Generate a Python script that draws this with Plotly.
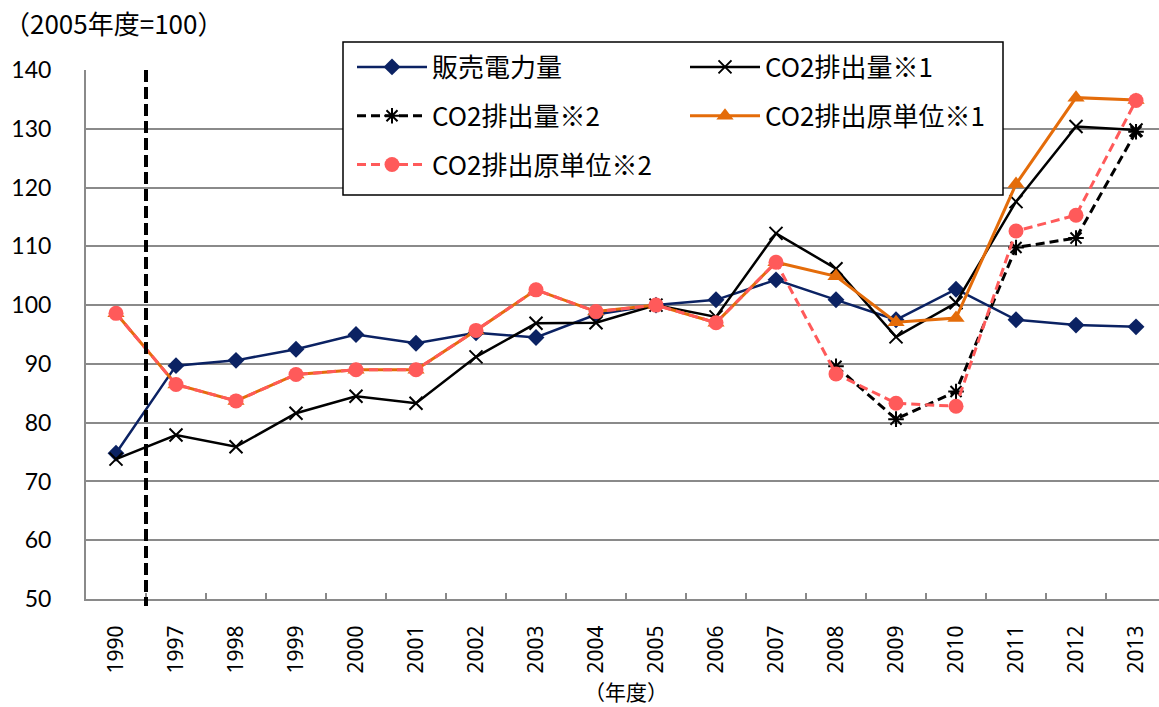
import plotly.graph_objects as go

# ---- data (index, 2005 = 100) ----
years = ["1990", "1997", "1998", "1999", "2000", "2001", "2002", "2003", "2004",
         "2005", "2006", "2007", "2008", "2009", "2010", "2011", "2012", "2013"]

sales = [74.8, 89.7, 90.6, 92.5, 95.0, 93.5, 95.3, 94.5, 98.4,
         100.0, 100.9, 104.3, 100.9, 97.5, 102.7, 97.5, 96.6, 96.3]

co2_1 = [73.8, 77.9, 75.9, 81.6, 84.5, 83.3, 91.2, 96.9, 97.0,
         100.0, 98.0, 112.2, 106.2, 94.6, 100.4, 117.6, 130.4, 129.8]

co2_2 = [None, None, None, None, None, None, None, None, None,
         None, None, None, 89.6, 80.6, 85.3, 109.8, 111.4, 129.5]

intensity_1 = [98.6, 86.5, 83.7, 88.2, 89.0, 89.0, 95.7, 102.6, 98.9,
               100.0, 97.0, 107.3, 104.9, 97.1, 97.8, 120.6, 135.3, 134.9]

intensity_2 = [98.6, 86.5, 83.7, 88.2, 89.0, 89.0, 95.7, 102.6, 98.9,
               100.0, 97.0, 107.3, 88.3, 83.3, 82.8, 112.6, 115.3, 134.8]

names = ["販売電力量", "CO2排出量※1", "CO2排出量※2", "CO2排出原単位※1", "CO2排出原単位※2"]

# ---- layout constants ----
W, H = 1159, 707
ML, MR, MT, MB = 86, 0, 70, 108
X_RANGE = [-0.5, 17.383]
Y_RANGE = [50, 140]
BREAK_POS = 0.5  # boundary between 1990 and 1997

NAVY = "#0B2263"
ORANGE = "#E46C0A"
PINK = "#FF5A5A"
GRID = "#8A8A8A"
NUMFONT = "Lato"
XFONT = "Noto Sans"
JFONT = "Noto Sans CJK JP"


def px_x(px):
    return (px - ML) / (W - ML - MR)


def px_y(py):
    return (H - MB - py) / (H - MT - MB)


fig = go.Figure()

fig.add_trace(go.Scatter(
    x=years, y=sales, name=names[0], mode="lines+markers",
    line=dict(color=NAVY, width=2.5),
    marker=dict(symbol="diamond", size=13, color=NAVY),
    legend="legend", legendgroup="a"))

fig.add_trace(go.Scatter(
    x=years, y=co2_1, name=names[1], mode="lines+markers",
    line=dict(color="black", width=2.5),
    marker=dict(symbol="x-thin", size=13, color="black",
                line=dict(color="black", width=2)),
    legend="legend2", legendgroup="b"))

fig.add_trace(go.Scatter(
    x=years, y=co2_2, name=names[2], mode="lines+markers",
    line=dict(color="black", width=3, dash="9px,5px"),
    marker=dict(symbol="asterisk", size=13, color="black",
                line=dict(color="black", width=2)),
    legend="legend", legendgroup="c"))

fig.add_trace(go.Scatter(
    x=years, y=intensity_1, name=names[3], mode="lines+markers",
    line=dict(color=ORANGE, width=3),
    marker=dict(symbol="triangle-up", size=15, color=ORANGE),
    legend="legend2", legendgroup="d"))

fig.add_trace(go.Scatter(
    x=years, y=intensity_2, name=names[4], mode="lines+markers",
    line=dict(color=PINK, width=3, dash="9px,5px"),
    marker=dict(symbol="circle", size=15, color=PINK),
    legend="legend", legendgroup="e"))

# break marker between 1990 and the continuous series
brk = (BREAK_POS - X_RANGE[0]) / (X_RANGE[1] - X_RANGE[0])
shapes = [
    dict(type="line", xref="paper", yref="paper", x0=brk, x1=brk,
         y0=1.0, y1=px_y(606), line=dict(color="black", width=4, dash="12px,5px"),
         layer="above"),
    # legend frame
    dict(type="rect", xref="paper", yref="paper",
         x0=px_x(343), x1=px_x(1003), y0=px_y(195), y1=px_y(42),
         line=dict(color="black", width=1.5), fillcolor="white", layer="above"),
]

legend_common = dict(
    xanchor="left", yanchor="top", bgcolor="rgba(0,0,0,0)", borderwidth=0,
    font=dict(family=JFONT, size=26, color="black"),
    itemwidth=70, tracegroupgap=12, traceorder="grouped",
)

fig.update_layout(
    width=W, height=H,
    margin=dict(l=ML, r=MR, t=MT, b=MB, autoexpand=False),
    paper_bgcolor="white", plot_bgcolor="white",
    font=dict(family=JFONT, color="black"),
    showlegend=True,
    legend=dict(x=px_x(352), y=px_y(43.5), **legend_common),
    legend2=dict(x=px_x(685), y=px_y(43.5), **legend_common),
    xaxis=dict(
        type="category", range=X_RANGE, tickson="boundaries",
        ticks="inside", ticklen=6, tickwidth=1.5, tickcolor=GRID,
        showline=True, linecolor=GRID, linewidth=2,
        showgrid=False, zeroline=False, tickangle=-90,
        ticklabelstandoff=16,
        tickfont=dict(family=XFONT, size=21, color="black"),
    ),
    yaxis=dict(
        range=Y_RANGE, dtick=10, tick0=50,
        showgrid=True, gridcolor=GRID, gridwidth=2,
        showline=True, linecolor=GRID, linewidth=2, zeroline=False,
        ticks="", ticklabelstandoff=28,
        tickfont=dict(family=NUMFONT, size=23, color="black"),
    ),
    shapes=shapes,
    annotations=[
        dict(text="（2005年度=100）", xref="paper", yref="paper",
             x=px_x(2), y=px_y(22), xanchor="left", yanchor="middle",
             showarrow=False, font=dict(family=JFONT, size=26, color="black")),
        dict(text="（年度）", xref="paper", yref="paper",
             x=px_x(626), y=px_y(691), xanchor="center", yanchor="middle",
             showarrow=False, font=dict(family=JFONT, size=21, color="black")),
    ],
)

fig.write_html("out.html")
